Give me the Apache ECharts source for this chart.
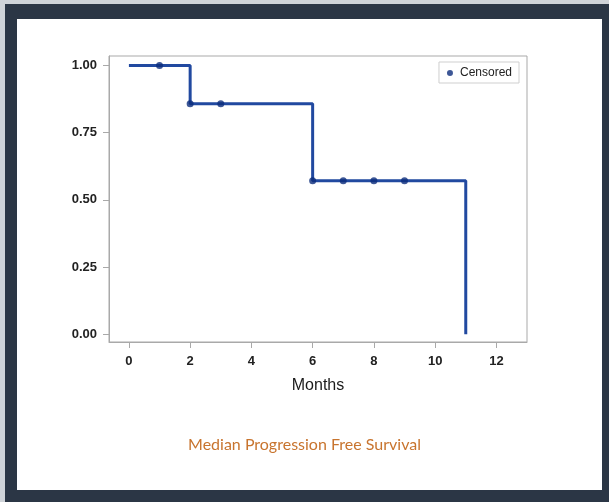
<!DOCTYPE html>
<html>
<head>
<meta charset="utf-8">
<script src="https://cdn.jsdelivr.net/npm/echarts@6/dist/echarts.min.js"></script>
<style>
  html, body { margin: 0; padding: 0; width: 609px; height: 502px; overflow: hidden; background: #cfd3d8; }
  .frame { position: absolute; left: 5px; top: 4px; width: 604px; height: 498px; background: #2b3645; }
  .paper { position: absolute; left: 17px; top: 19px; width: 585px; height: 471px; background: #ffffff; }
  #chart { position: absolute; left: 0; top: 0; width: 609px; height: 502px; }
</style>
</head>
<body>
<div class="frame"></div>
<div class="paper"></div>
<div id="chart"></div>
<script>
// Kaplan-Meier step curve
const stepMonths = [0, 2, 6, 11];
const stepSurvival = [1.0, 0.857, 0.571, 0.0];
// censored observations
const censoredMonths = [1, 2, 3, 6, 7, 8, 9];
const censoredSurvival = [1.0, 0.857, 0.857, 0.571, 0.571, 0.571, 0.571];
// tick labels
const xTicks = [0, 2, 4, 6, 8, 10, 12];
const yTicks = [0, 0.25, 0.5, 0.75, 1.0];

const lineColor = '#2149a0';
const dotColor = '#0c2d7c';

const chart = echarts.init(document.getElementById('chart'), null, { renderer: 'canvas' });

chart.setOption({
  backgroundColor: 'transparent',
  animation: false,
  grid: {
    left: 109, right: 82, top: 56, bottom: 160,
    show: true, borderColor: '#a9a9a9', borderWidth: 1, backgroundColor: 'transparent'
  },
  legend: {
    data: [{ name: 'Censored', icon: 'circle' }],
    right: 90, top: 62,
    itemWidth: 6, itemHeight: 6, itemGap: 4,
    padding: [5, 7, 4, 8],
    borderColor: '#cfcfcf', borderWidth: 1, borderRadius: 0,
    textStyle: { fontFamily: 'Liberation Sans, Arial', fontSize: 12, color: '#222', padding: [0, 0, 0, 2] }
  },
  xAxis: {
    type: 'value', min: -0.65, max: 13,
    name: 'Months', nameLocation: 'middle', nameGap: 36,
    nameTextStyle: { fontFamily: 'Liberation Sans, Arial', fontSize: 16, color: '#1a1a1a' },
    axisLine: { show: true, onZero: false, lineStyle: { color: '#a9a9a9' } },
    axisTick: { show: true, inside: false, length: 6, customValues: xTicks, lineStyle: { color: '#a9a9a9' } },
    axisLabel: {
      customValues: xTicks, margin: 13,
      fontFamily: 'Liberation Sans, Arial', fontSize: 13, fontWeight: 'bold', color: '#222'
    },
    splitLine: { show: false }
  },
  yAxis: {
    type: 'value', min: -0.029, max: 1.035,
    axisLine: { show: true, onZero: false, lineStyle: { color: '#a9a9a9' } },
    axisTick: { show: true, inside: false, length: 6, customValues: yTicks, lineStyle: { color: '#a9a9a9' } },
    axisLabel: {
      customValues: yTicks, margin: 12,
      formatter: (v) => v.toFixed(2),
      fontFamily: 'Liberation Sans, Arial', fontSize: 13, fontWeight: 'bold', color: '#222'
    },
    splitLine: { show: false }
  },
  series: [
    {
      name: 'Survival',
      type: 'line',
      step: 'end',
      data: stepMonths.map((m, i) => [m, stepSurvival[i]]),
      showSymbol: false,
      lineStyle: { color: lineColor, width: 3 },
      itemStyle: { color: lineColor },
      z: 2
    },
    {
      name: 'Censored',
      type: 'scatter',
      data: censoredMonths.map((m, i) => [m, censoredSurvival[i]]),
      symbol: 'circle',
      symbolSize: 7,
      itemStyle: { color: dotColor },
      z: 3
    }
  ],
  graphic: [
    {
      type: 'text', left: 'center', top: 437,
      style: {
        text: 'Median Progression Free Survival',
        fontFamily: 'Lato, Open Sans, sans-serif', fontSize: 16, fill: '#c8742e'
      }
    }
  ]
});
</script>
</body>
</html>
